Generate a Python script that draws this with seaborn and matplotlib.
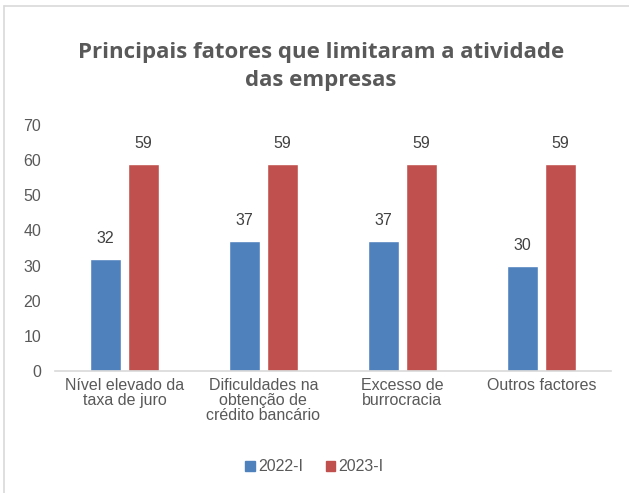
import matplotlib
matplotlib.use("Agg")
import matplotlib.pyplot as plt
import seaborn as sns
import pandas as pd
from matplotlib.lines import Line2D

# dados do gráfico
categorias = ["Nível elevado da\ntaxa de juro",
              "Dificuldades na\nobtenção de\ncrédito bancário",
              "Excesso de\nburrocracia",
              "Outros factores"]
series = ["2022-I", "2023-I"]
valores_2022 = [32, 37, 37, 30]
valores_2023 = [59, 59, 59, 59]
yticks = [0, 10, 20, 30, 40, 50, 60, 70]

df = pd.DataFrame({
    "categoria": categorias * 2,
    "serie": [series[0]] * 4 + [series[1]] * 4,
    "valor": valores_2022 + valores_2023,
})

sns.set_theme(style="white")
plt.rcParams["font.family"] = ["Liberation Sans", "DejaVu Sans"]
cinza = "#595959"

fig = plt.figure(figsize=(6.29, 4.93), dpi=100)
ax = fig.add_axes([0.0874, 0.2475, 0.8836, 0.4990])

sns.barplot(data=df, x="categoria", y="valor", hue="serie",
            palette=["#4F81BD", "#C0504D"], width=0.55, gap=0.18,
            ax=ax, legend=False, saturation=1)

for cont in ax.containers:
    ax.bar_label(cont, padding=9, fontsize=11.5, color="#404040")

ax.set_ylim(0, 70)
ax.set_xlim(-0.5, 3.5)
ax.set_yticks(yticks)
ax.tick_params(axis="both", length=0, labelsize=11.5, colors=cinza, pad=5)
ax.tick_params(axis="y", pad=10)
ax.set_xlabel("")
ax.set_ylabel("")
for s in ["top", "right", "left"]:
    ax.spines[s].set_visible(False)
ax.spines["bottom"].set_color("#d9d9d9")
ax.spines["bottom"].set_linewidth(1.2)
for lbl in ax.get_xticklabels():
    lbl.set_linespacing(1.0)

fig.text(0.51, 0.865, "Principais fatores que limitaram a atividade\ndas empresas",
         ha="center", va="center", fontsize=16, fontweight="bold",
         color=cinza, family=["Open Sans", "DejaVu Sans"], linespacing=1.4)

handles = [plt.Rectangle((0, 0), 1, 1, color="#4F81BD"),
           plt.Rectangle((0, 0), 1, 1, color="#C0504D")]
fig.legend(handles, series, loc="center", bbox_to_anchor=(0.5, 0.053),
           ncol=2, frameon=False, fontsize=11.5, labelcolor=cinza,
           handlelength=0.6, handleheight=0.6, handletextpad=0.2,
           columnspacing=1.4)

# moldura do gráfico (esquerda e topo)
fig.add_artist(Line2D([0.007, 0.007], [0.0, 0.988], color="#d9d9d9", lw=1.2))
fig.add_artist(Line2D([0.007, 1.0], [0.988, 0.988], color="#d9d9d9", lw=1.2))

fig.savefig("out.png", dpi=100)
